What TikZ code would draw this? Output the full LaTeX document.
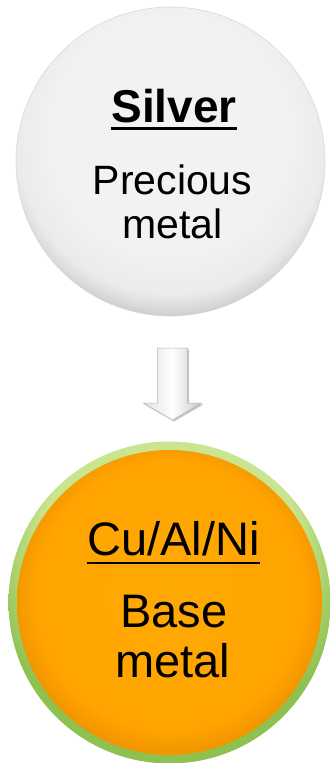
\documentclass[tikz,border=0pt]{standalone}
\usepackage{fontspec}
\setmainfont{Liberation Sans}
\definecolor{silvA}{HTML}{F2F2F2}
\definecolor{silvB}{HTML}{EBEBEB}
\definecolor{silvC}{HTML}{DADADA}
\definecolor{silvD}{HTML}{B4B4B4}
\definecolor{silvE}{HTML}{8A8A8A}
\definecolor{orA}{HTML}{FFA904}
\definecolor{orB}{HTML}{FFA400}
\definecolor{orC}{HTML}{F29600}
\definecolor{grA}{HTML}{C9E58F}
\definecolor{grB}{HTML}{8EC150}
\definecolor{grC}{HTML}{6E9E3A}
\pgfdeclareradialshading{silverball}{\pgfpoint{0bp}{7bp}}{color(0bp)=(silvA); color(19bp)=(silvA); color(25bp)=(silvB); color(27bp)=(silvC); color(30bp)=(silvD); color(32.5bp)=(silvE); color(50bp)=(silvE)}
\pgfdeclareradialshading{orangeball}{\pgfpoint{0bp}{2bp}}{color(0bp)=(orA); color(22bp)=(orB); color(25.5bp)=(orC); color(50bp)=(orC)}
\pgfdeclareradialshading{greenring}{\pgfpoint{0bp}{14bp}}{color(0bp)=(grA); color(20bp)=(grA); color(28bp)=(grB); color(37bp)=(grB); color(39bp)=(grC); color(50bp)=(grC)}
\begin{document}
\begin{tikzpicture}[x=1pt,y=-1pt,
  lbl/.style={inner sep=0pt,anchor=base,text=black},
  topfont/.style={font=\fontsize{41}{44}\selectfont},
  titlefont/.style={font=\fontsize{46}{50}\selectfont\bfseries},
  botfont/.style={font=\fontsize{47}{50}\selectfont},
  ball/.style={circle,inner sep=0pt,draw=none}]
\useasboundingbox (0,0) rectangle (331,763);
\fill[white] (0,0) rectangle (331,763);
% top circle
\node[ball,minimum size=309pt] (top) at (170.5,161.5) {};
\shade[shading=silverball] (top.center) circle[radius=154.5];
\draw[line width=0.6pt,black!15] (top.center) circle[radius=154.5];
% bottom circle
\node[ball,minimum size=322pt] (bot) at (169.5,602.5) {};
\shade[shading=greenring] (bot.center) circle[radius=161];
\shade[shading=orangeball] (bot.center) circle[radius=152.5];
% arrow
\coordinate (astart) at (172.5,348);
\coordinate (aend) at (172.5,420);
\fill[black!22] ([xshift=1.5pt,yshift=-1.5pt]astart) ++(-15,0) -- ++(30,0) -- ++(0,55) -- ++(14.5,0) -- ([xshift=1.5pt,yshift=-1.5pt]aend) -- ++(-29.5,-17) -- ++(14.5,0) -- cycle;
\shade[left color=black!12,right color=black!22,middle color=white,draw=black!30,line width=0.5pt]
  (astart) ++(-15,0) -- ++(30,0) -- ++(0,55) -- ++(14.5,0) -- (aend) -- ++(-29.5,-17) -- ++(14.5,0) -- cycle;
% top texts
\node[lbl,titlefont] (silver) at (174,122) {Silver};
\draw[line width=3pt] ([yshift=-6.5pt]silver.base west) -- ([yshift=-6.5pt]silver.base east);
\node[lbl,topfont] (prec) at (172.5,194) {Precious};
\node[lbl,topfont] (metal1) at (172.5,238) {metal};
% bottom texts
\node[lbl,botfont] (cu) at (173.5,555) {Cu/Al/Ni};
\draw[line width=2.2pt] ([yshift=-8pt]cu.base west) -- ([yshift=-8pt]cu.base east);
\node[lbl,botfont] (base) at (174,627) {Base};
\node[lbl,botfont] (metal2) at (172.5,677) {metal};
\end{tikzpicture}
\end{document}
